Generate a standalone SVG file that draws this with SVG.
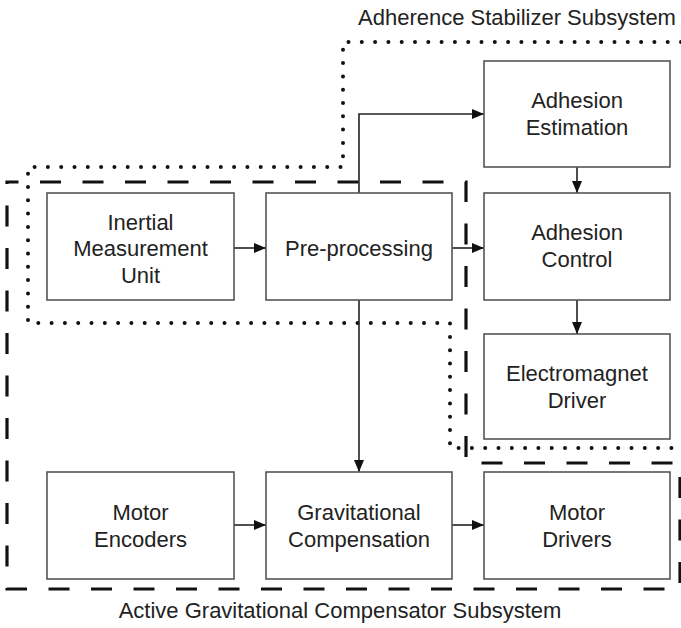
<svg xmlns="http://www.w3.org/2000/svg" width="681" height="628" viewBox="0 0 681 628">
  <defs>
    <marker id="arrow" viewBox="0 0 12 10" refX="12" refY="5" markerWidth="12" markerHeight="10" markerUnits="userSpaceOnUse" orient="auto">
      <path d="M0,0 L12,5 L0,10 Z" fill="#111"/>
    </marker>
    <style>
      .box { fill: #fff; stroke: #555; stroke-width: 1.6; }
      .lbl { font-family: "Liberation Sans", Arial, sans-serif; font-size: 22px; fill: #222; text-anchor: middle; }
      .cap { font-family: "Liberation Sans", Arial, sans-serif; font-size: 22px; fill: #222; }
      .wire { fill: none; stroke: #222; stroke-width: 1.6; }
      .dots { fill: none; stroke: #111; stroke-width: 4; stroke-linecap: round; stroke-dasharray: 0 13.3; }
      .dash { fill: none; stroke: #111; stroke-width: 3.2; stroke-dasharray: 21 21.5; stroke-dashoffset: 9.5; }
    </style>
  </defs>

  <rect width="681" height="628" fill="#fff"/>

  <!-- subsystem boundaries -->
  <g id="adherence-stabilizer">
    <path class="dots" d="M681,42 H343 V167 H28 V323 H450 V448 H681"/>
    <text class="cap" x="358" y="25">Adherence Stabilizer Subsystem</text>
  </g>
  <g id="active-gravitational-compensator">
    <path class="dash" d="M7,182 H466 V463 H680 V589 H7 Z"/>
    <text class="lbl" x="340" y="618">Active Gravitational Compensator Subsystem</text>
  </g>

  <!-- connectors -->
  <g id="connectors">
    <path class="wire" d="M234,248 H266" marker-end="url(#arrow)"/>
    <path class="wire" d="M452,248 H484" marker-end="url(#arrow)"/>
    <path class="wire" d="M359,193 V114 H484" marker-end="url(#arrow)"/>
    <path class="wire" d="M577,167 V193" marker-end="url(#arrow)"/>
    <path class="wire" d="M577,300 V334" marker-end="url(#arrow)"/>
    <path class="wire" d="M359,300 V472" marker-end="url(#arrow)"/>
    <path class="wire" d="M234,525 H266" marker-end="url(#arrow)"/>
    <path class="wire" d="M452,525 H484" marker-end="url(#arrow)"/>
  </g>

  <!-- blocks -->
  <g id="imu">
    <rect class="box" x="47" y="193" width="187" height="107"/>
    <text class="lbl" x="140.5" y="230">Inertial</text>
    <text class="lbl" x="140.5" y="256">Measurement</text>
    <text class="lbl" x="140.5" y="283">Unit</text>
  </g>
  <g id="preprocessing">
    <rect class="box" x="266" y="193" width="186" height="107"/>
    <text class="lbl" x="359" y="256">Pre-processing</text>
  </g>
  <g id="adhesion-estimation">
    <rect class="box" x="484" y="61" width="186" height="106"/>
    <text class="lbl" x="577" y="108">Adhesion</text>
    <text class="lbl" x="577" y="135">Estimation</text>
  </g>
  <g id="adhesion-control">
    <rect class="box" x="484" y="193" width="186" height="107"/>
    <text class="lbl" x="577" y="240">Adhesion</text>
    <text class="lbl" x="577" y="267">Control</text>
  </g>
  <g id="electromagnet-driver">
    <rect class="box" x="484" y="334" width="186" height="105"/>
    <text class="lbl" x="577" y="381">Electromagnet</text>
    <text class="lbl" x="577" y="408">Driver</text>
  </g>
  <g id="motor-encoders">
    <rect class="box" x="47" y="472" width="187" height="107"/>
    <text class="lbl" x="140.5" y="520">Motor</text>
    <text class="lbl" x="140.5" y="547">Encoders</text>
  </g>
  <g id="gravitational-compensation">
    <rect class="box" x="266" y="472" width="186" height="107"/>
    <text class="lbl" x="359" y="520">Gravitational</text>
    <text class="lbl" x="359" y="547">Compensation</text>
  </g>
  <g id="motor-drivers">
    <rect class="box" x="484" y="472" width="186" height="107"/>
    <text class="lbl" x="577" y="520">Motor</text>
    <text class="lbl" x="577" y="547">Drivers</text>
  </g>
</svg>
